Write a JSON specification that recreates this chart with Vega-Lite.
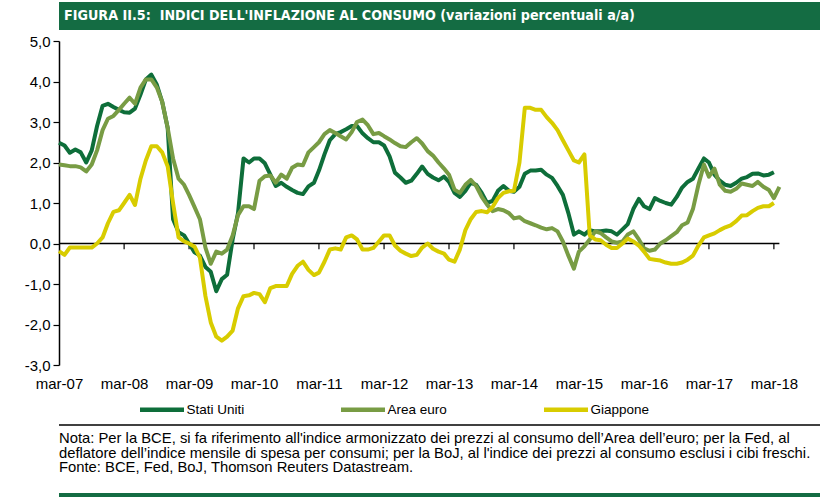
{
  "$schema": "https://vega.github.io/schema/vega-lite/v6.json",
  "padding": {"left": 0, "right": 0, "top": 2, "bottom": 0},
  "spacing": 4,
  "background": "white",
  "config": {"view": {"stroke": null}, "font": "Liberation Sans"},
  "datasets": {
    "m": [
      {"d":"2007-03-01","Stati Uniti":2.49,"Area euro":1.95,"Giappone":-0.19},
      {"d":"2007-04-01","Stati Uniti":2.42,"Area euro":1.93,"Giappone":-0.28},
      {"d":"2007-05-01","Stati Uniti":2.24,"Area euro":1.91,"Giappone":-0.1},
      {"d":"2007-06-01","Stati Uniti":2.32,"Area euro":1.91,"Giappone":-0.1},
      {"d":"2007-07-01","Stati Uniti":2.25,"Area euro":1.88,"Giappone":-0.1},
      {"d":"2007-08-01","Stati Uniti":2.0,"Area euro":1.78,"Giappone":-0.1},
      {"d":"2007-09-01","Stati Uniti":2.3,"Area euro":1.95,"Giappone":-0.1},
      {"d":"2007-10-01","Stati Uniti":2.9,"Area euro":2.3,"Giappone":0.0},
      {"d":"2007-11-01","Stati Uniti":3.4,"Area euro":2.8,"Giappone":0.15},
      {"d":"2007-12-01","Stati Uniti":3.45,"Area euro":3.08,"Giappone":0.5},
      {"d":"2008-01-01","Stati Uniti":3.37,"Area euro":3.15,"Giappone":0.78},
      {"d":"2008-02-01","Stati Uniti":3.3,"Area euro":3.3,"Giappone":0.82},
      {"d":"2008-03-01","Stati Uniti":3.24,"Area euro":3.45,"Giappone":1.0},
      {"d":"2008-04-01","Stati Uniti":3.23,"Area euro":3.6,"Giappone":1.2},
      {"d":"2008-05-01","Stati Uniti":3.33,"Area euro":3.45,"Giappone":0.95},
      {"d":"2008-06-01","Stati Uniti":3.68,"Area euro":3.85,"Giappone":1.6},
      {"d":"2008-07-01","Stati Uniti":4.05,"Area euro":4.05,"Giappone":2.05},
      {"d":"2008-08-01","Stati Uniti":4.17,"Area euro":4.05,"Giappone":2.4},
      {"d":"2008-09-01","Stati Uniti":3.92,"Area euro":3.85,"Giappone":2.4},
      {"d":"2008-10-01","Stati Uniti":3.5,"Area euro":3.5,"Giappone":2.25},
      {"d":"2008-11-01","Stati Uniti":2.85,"Area euro":2.85,"Giappone":1.9},
      {"d":"2008-12-01","Stati Uniti":0.6,"Area euro":2.1,"Giappone":1.0},
      {"d":"2009-01-01","Stati Uniti":0.28,"Area euro":1.6,"Giappone":0.15},
      {"d":"2009-02-01","Stati Uniti":0.2,"Area euro":1.45,"Giappone":0.05},
      {"d":"2009-03-01","Stati Uniti":0.0,"Area euro":1.2,"Giappone":0.0},
      {"d":"2009-04-01","Stati Uniti":-0.22,"Area euro":0.9,"Giappone":-0.08},
      {"d":"2009-05-01","Stati Uniti":-0.3,"Area euro":0.6,"Giappone":-0.35},
      {"d":"2009-06-01","Stati Uniti":-0.58,"Area euro":-0.1,"Giappone":-1.3},
      {"d":"2009-07-01","Stati Uniti":-0.7,"Area euro":-0.5,"Giappone":-1.95},
      {"d":"2009-08-01","Stati Uniti":-1.18,"Area euro":-0.2,"Giappone":-2.3},
      {"d":"2009-09-01","Stati Uniti":-0.88,"Area euro":-0.25,"Giappone":-2.4},
      {"d":"2009-10-01","Stati Uniti":-0.77,"Area euro":-0.15,"Giappone":-2.3},
      {"d":"2009-11-01","Stati Uniti":0.1,"Area euro":0.2,"Giappone":-2.15},
      {"d":"2009-12-01","Stati Uniti":0.75,"Area euro":0.7,"Giappone":-1.6},
      {"d":"2010-01-01","Stati Uniti":2.1,"Area euro":0.92,"Giappone":-1.3},
      {"d":"2010-02-01","Stati Uniti":2.0,"Area euro":0.92,"Giappone":-1.28},
      {"d":"2010-03-01","Stati Uniti":2.1,"Area euro":0.85,"Giappone":-1.22},
      {"d":"2010-04-01","Stati Uniti":2.1,"Area euro":1.55,"Giappone":-1.25},
      {"d":"2010-05-01","Stati Uniti":1.98,"Area euro":1.66,"Giappone":-1.45},
      {"d":"2010-06-01","Stati Uniti":1.7,"Area euro":1.68,"Giappone":-1.1},
      {"d":"2010-07-01","Stati Uniti":1.42,"Area euro":1.5,"Giappone":-1.05},
      {"d":"2010-08-01","Stati Uniti":1.5,"Area euro":1.7,"Giappone":-1.05},
      {"d":"2010-09-01","Stati Uniti":1.4,"Area euro":1.6,"Giappone":-1.05},
      {"d":"2010-10-01","Stati Uniti":1.32,"Area euro":1.87,"Giappone":-0.75},
      {"d":"2010-11-01","Stati Uniti":1.25,"Area euro":1.95,"Giappone":-0.55},
      {"d":"2010-12-01","Stati Uniti":1.22,"Area euro":1.93,"Giappone":-0.45},
      {"d":"2011-01-01","Stati Uniti":1.41,"Area euro":2.25,"Giappone":-0.65},
      {"d":"2011-02-01","Stati Uniti":1.5,"Area euro":2.38,"Giappone":-0.78},
      {"d":"2011-03-01","Stati Uniti":1.8,"Area euro":2.5,"Giappone":-0.72},
      {"d":"2011-04-01","Stati Uniti":2.2,"Area euro":2.7,"Giappone":-0.45},
      {"d":"2011-05-01","Stati Uniti":2.55,"Area euro":2.8,"Giappone":-0.15},
      {"d":"2011-06-01","Stati Uniti":2.7,"Area euro":2.73,"Giappone":-0.12},
      {"d":"2011-07-01","Stati Uniti":2.75,"Area euro":2.65,"Giappone":-0.15},
      {"d":"2011-08-01","Stati Uniti":2.82,"Area euro":2.57,"Giappone":0.15},
      {"d":"2011-09-01","Stati Uniti":2.9,"Area euro":2.75,"Giappone":0.2},
      {"d":"2011-10-01","Stati Uniti":2.9,"Area euro":3.0,"Giappone":0.1},
      {"d":"2011-11-01","Stati Uniti":2.72,"Area euro":3.06,"Giappone":-0.15},
      {"d":"2011-12-01","Stati Uniti":2.6,"Area euro":2.92,"Giappone":-0.15},
      {"d":"2012-01-01","Stati Uniti":2.5,"Area euro":2.7,"Giappone":-0.11},
      {"d":"2012-02-01","Stati Uniti":2.5,"Area euro":2.73,"Giappone":0.05},
      {"d":"2012-03-01","Stati Uniti":2.42,"Area euro":2.65,"Giappone":0.2},
      {"d":"2012-04-01","Stati Uniti":2.15,"Area euro":2.57,"Giappone":0.2},
      {"d":"2012-05-01","Stati Uniti":1.75,"Area euro":2.48,"Giappone":-0.05},
      {"d":"2012-06-01","Stati Uniti":1.63,"Area euro":2.4,"Giappone":-0.18},
      {"d":"2012-07-01","Stati Uniti":1.5,"Area euro":2.38,"Giappone":-0.25},
      {"d":"2012-08-01","Stati Uniti":1.55,"Area euro":2.5,"Giappone":-0.31},
      {"d":"2012-09-01","Stati Uniti":1.72,"Area euro":2.6,"Giappone":-0.28},
      {"d":"2012-10-01","Stati Uniti":1.9,"Area euro":2.47,"Giappone":-0.1},
      {"d":"2012-11-01","Stati Uniti":1.72,"Area euro":2.28,"Giappone":0.0},
      {"d":"2012-12-01","Stati Uniti":1.63,"Area euro":2.17,"Giappone":-0.13},
      {"d":"2013-01-01","Stati Uniti":1.56,"Area euro":2.0,"Giappone":-0.2},
      {"d":"2013-02-01","Stati Uniti":1.65,"Area euro":1.85,"Giappone":-0.25},
      {"d":"2013-03-01","Stati Uniti":1.52,"Area euro":1.7,"Giappone":-0.4},
      {"d":"2013-04-01","Stati Uniti":1.25,"Area euro":1.33,"Giappone":-0.45},
      {"d":"2013-05-01","Stati Uniti":1.15,"Area euro":1.25,"Giappone":-0.15},
      {"d":"2013-06-01","Stati Uniti":1.3,"Area euro":1.45,"Giappone":0.33},
      {"d":"2013-07-01","Stati Uniti":1.5,"Area euro":1.57,"Giappone":0.6},
      {"d":"2013-08-01","Stati Uniti":1.45,"Area euro":1.42,"Giappone":0.78},
      {"d":"2013-09-01","Stati Uniti":1.25,"Area euro":1.15,"Giappone":0.8},
      {"d":"2013-10-01","Stati Uniti":1.0,"Area euro":0.96,"Giappone":0.77},
      {"d":"2013-11-01","Stati Uniti":1.05,"Area euro":0.8,"Giappone":0.9},
      {"d":"2013-12-01","Stati Uniti":1.3,"Area euro":0.85,"Giappone":1.12},
      {"d":"2014-01-01","Stati Uniti":1.42,"Area euro":0.82,"Giappone":1.25},
      {"d":"2014-02-01","Stati Uniti":1.3,"Area euro":0.75,"Giappone":1.29},
      {"d":"2014-03-01","Stati Uniti":1.28,"Area euro":0.62,"Giappone":1.3},
      {"d":"2014-04-01","Stati Uniti":1.4,"Area euro":0.65,"Giappone":2.0},
      {"d":"2014-05-01","Stati Uniti":1.72,"Area euro":0.55,"Giappone":3.35},
      {"d":"2014-06-01","Stati Uniti":1.8,"Area euro":0.5,"Giappone":3.35},
      {"d":"2014-07-01","Stati Uniti":1.8,"Area euro":0.45,"Giappone":3.3},
      {"d":"2014-08-01","Stati Uniti":1.82,"Area euro":0.39,"Giappone":3.3},
      {"d":"2014-09-01","Stati Uniti":1.7,"Area euro":0.35,"Giappone":3.12},
      {"d":"2014-10-01","Stati Uniti":1.62,"Area euro":0.38,"Giappone":2.98},
      {"d":"2014-11-01","Stati Uniti":1.42,"Area euro":0.3,"Giappone":2.8},
      {"d":"2014-12-01","Stati Uniti":1.2,"Area euro":0.05,"Giappone":2.55},
      {"d":"2015-01-01","Stati Uniti":0.75,"Area euro":-0.3,"Giappone":2.3},
      {"d":"2015-02-01","Stati Uniti":0.22,"Area euro":-0.62,"Giappone":2.05},
      {"d":"2015-03-01","Stati Uniti":0.3,"Area euro":-0.2,"Giappone":2.0},
      {"d":"2015-04-01","Stati Uniti":0.22,"Area euro":-0.07,"Giappone":2.2},
      {"d":"2015-05-01","Stati Uniti":0.33,"Area euro":0.1,"Giappone":0.2},
      {"d":"2015-06-01","Stati Uniti":0.3,"Area euro":0.3,"Giappone":0.1},
      {"d":"2015-07-01","Stati Uniti":0.3,"Area euro":0.26,"Giappone":0.08},
      {"d":"2015-08-01","Stati Uniti":0.32,"Area euro":0.15,"Giappone":-0.03},
      {"d":"2015-09-01","Stati Uniti":0.3,"Area euro":0.05,"Giappone":-0.11},
      {"d":"2015-10-01","Stati Uniti":0.22,"Area euro":0.02,"Giappone":-0.11},
      {"d":"2015-11-01","Stati Uniti":0.35,"Area euro":0.05,"Giappone":0.0},
      {"d":"2015-12-01","Stati Uniti":0.48,"Area euro":0.22,"Giappone":0.12},
      {"d":"2016-01-01","Stati Uniti":0.85,"Area euro":0.3,"Giappone":0.05},
      {"d":"2016-02-01","Stati Uniti":1.1,"Area euro":0.1,"Giappone":-0.05},
      {"d":"2016-03-01","Stati Uniti":0.92,"Area euro":-0.12,"Giappone":-0.2},
      {"d":"2016-04-01","Stati Uniti":0.85,"Area euro":-0.18,"Giappone":-0.38},
      {"d":"2016-05-01","Stati Uniti":1.12,"Area euro":-0.15,"Giappone":-0.4},
      {"d":"2016-06-01","Stati Uniti":1.05,"Area euro":0.0,"Giappone":-0.42},
      {"d":"2016-07-01","Stati Uniti":1.0,"Area euro":0.08,"Giappone":-0.47},
      {"d":"2016-08-01","Stati Uniti":0.96,"Area euro":0.18,"Giappone":-0.5},
      {"d":"2016-09-01","Stati Uniti":1.15,"Area euro":0.28,"Giappone":-0.5},
      {"d":"2016-10-01","Stati Uniti":1.38,"Area euro":0.45,"Giappone":-0.47},
      {"d":"2016-11-01","Stati Uniti":1.52,"Area euro":0.52,"Giappone":-0.4},
      {"d":"2016-12-01","Stati Uniti":1.6,"Area euro":0.85,"Giappone":-0.3},
      {"d":"2017-01-01","Stati Uniti":1.85,"Area euro":1.45,"Giappone":-0.05},
      {"d":"2017-02-01","Stati Uniti":2.1,"Area euro":1.95,"Giappone":0.15},
      {"d":"2017-03-01","Stati Uniti":2.0,"Area euro":1.65,"Giappone":0.2},
      {"d":"2017-04-01","Stati Uniti":1.7,"Area euro":1.85,"Giappone":0.25},
      {"d":"2017-05-01","Stati Uniti":1.55,"Area euro":1.45,"Giappone":0.33},
      {"d":"2017-06-01","Stati Uniti":1.45,"Area euro":1.3,"Giappone":0.4},
      {"d":"2017-07-01","Stati Uniti":1.42,"Area euro":1.28,"Giappone":0.45},
      {"d":"2017-08-01","Stati Uniti":1.5,"Area euro":1.35,"Giappone":0.55},
      {"d":"2017-09-01","Stati Uniti":1.6,"Area euro":1.48,"Giappone":0.69},
      {"d":"2017-10-01","Stati Uniti":1.64,"Area euro":1.45,"Giappone":0.7},
      {"d":"2017-11-01","Stati Uniti":1.72,"Area euro":1.42,"Giappone":0.8},
      {"d":"2017-12-01","Stati Uniti":1.73,"Area euro":1.52,"Giappone":0.88},
      {"d":"2018-01-01","Stati Uniti":1.68,"Area euro":1.4,"Giappone":0.92},
      {"d":"2018-02-01","Stati Uniti":1.7,"Area euro":1.32,"Giappone":0.92},
      {"d":"2018-03-01","Stati Uniti":1.76,"Area euro":1.12,"Giappone":1.0},
      {"d":"2018-04-01","Stati Uniti":null,"Area euro":1.4,"Giappone":null}
    ],
    "ticks": [
      {"d":"2008-03-01"},{"d":"2009-03-01"},{"d":"2010-03-01"},{"d":"2011-03-01"},
      {"d":"2012-03-01"},{"d":"2013-03-01"},{"d":"2014-03-01"},{"d":"2015-03-01"},
      {"d":"2016-03-01"},{"d":"2017-03-01"},{"d":"2018-03-01"}
    ],
    "notes": [
      {"k":1,"t":"Nota: Per la BCE, si fa riferimento all'indice armonizzato dei prezzi al consumo dell’Area dell’euro; per la Fed, al"},
      {"k":2,"t":"deflatore dell’indice mensile di spesa per consumi; per la BoJ, al l'indice dei prezzi al consumo esclusi i cibi freschi."},
      {"k":3,"t":"Fonte: BCE, Fed, BoJ, Thomson Reuters Datastream."}
    ]
  },
  "vconcat": [
    {
      "width": 820,
      "height": 28,
      "view": {"fill": "#146c43", "stroke": null},
      "data": {"values": [{"t": "FIGURA II.5:\u00a0 INDICI DELL'INFLAZIONE AL CONSUMO (variazioni percentuali a/a)"}]},
      "mark": {"type": "text", "align": "left", "baseline": "middle", "dx": 5, "font": "DejaVu Sans Condensed, Liberation Sans Narrow, Liberation Sans", "fontWeight": "bold", "fontSize": 14.2, "color": "white"},
      "encoding": {
        "x": {"datum": 0, "type": "quantitative", "scale": {"domain": [0, 1]}, "axis": null},
        "y": {"datum": 0.5, "type": "quantitative", "scale": {"domain": [0, 1]}, "axis": null},
        "text": {"field": "t"}
      }
    },
    {
      "width": 720.4,
      "height": 324,
      "encoding": {
        "x": {"field": "d", "type": "temporal",
          "scale": {"type": "utc", "domain": [{"year":2007,"month":3,"date":1,"utc":true},{"year":2018,"month":4,"date":1,"utc":true}]},
          "axis": {"title": null, "domain": false, "ticks": false, "grid": false, "labelPadding": 11, "labelFontSize": 15, "labelColor": "black", "labelOverlap": false, "labelFlush": false, "labelFont": "Liberation Sans",
            "values": [{"year":2007,"month":3,"date":1,"utc":true},{"year":2008,"month":3,"date":1,"utc":true},{"year":2009,"month":3,"date":1,"utc":true},{"year":2010,"month":3,"date":1,"utc":true},{"year":2011,"month":3,"date":1,"utc":true},{"year":2012,"month":3,"date":1,"utc":true},{"year":2013,"month":3,"date":1,"utc":true},{"year":2014,"month":3,"date":1,"utc":true},{"year":2015,"month":3,"date":1,"utc":true},{"year":2016,"month":3,"date":1,"utc":true},{"year":2017,"month":3,"date":1,"utc":true},{"year":2018,"month":3,"date":1,"utc":true}],
            "labelExpr": "'mar-' + utcFormat(datum.value, '%y')"}
        }
      },
      "layer": [
        {
          "data": {"values": [{"z": 0}]},
          "mark": {"type": "rule", "color": "black", "strokeWidth": 1.5},
          "encoding": {
            "x": null,
            "y": {"field": "z", "type": "quantitative",
              "scale": {"domain": [-3, 5], "nice": false, "zero": false},
              "axis": {"title": null, "grid": false, "values": [-3,-2,-1,0,1,2,3,4,5], "domainColor": "black", "domainWidth": 1.5, "tickColor": "black", "tickSize": 6, "tickWidth": 1.2, "labelPadding": 3, "labelFontSize": 15, "labelColor": "black", "minExtent": 58.3, "maxExtent": 58.3,
                "labelExpr": "(datum.value < 0 ? '-' : '') + replace(format(abs(datum.value), '.1f'), '.', ',')"}
            }
          }
        },
        {
          "data": {"name": "ticks"},
          "mark": {"type": "rule", "color": "black", "strokeWidth": 1.2},
          "encoding": {
            "y": {"datum": 0, "type": "quantitative"},
            "y2": {"datum": -0.14}
          }
        },
        {
          "data": {"name": "m"},
          "transform": [{"fold": ["Stati Uniti", "Area euro", "Giappone"], "as": ["serie", "v"]}],
          "mark": {"type": "line", "strokeWidth": 4, "strokeJoin": "round"},
          "encoding": {
            "y": {"field": "v", "type": "quantitative"},
            "color": {"field": "serie", "type": "nominal",
              "scale": {"domain": ["Stati Uniti", "Area euro", "Giappone"], "range": ["#0e6e3a", "#789c44", "#d8cc00"]},
              "legend": {"orient": "none", "legendX": 78.5, "legendY": 383, "direction": "horizontal", "title": null, "symbolType": "stroke", "symbolSize": 1936, "symbolStrokeWidth": 4.5, "labelFontSize": 13.5, "labelColor": "black", "labelOffset": 0, "columnPadding": 87, "padding": 0}
            }
          }
        }
      ]
    },
    {
      "width": 820,
      "height": 90,
      "layer": [
        {
          "data": {"values": [{"a": 0, "b": 1, "k": 0}]},
          "mark": {"type": "rule", "color": "black", "strokeWidth": 1.5},
          "encoding": {
            "x": {"field": "a", "type": "quantitative", "scale": {"domain": [0, 1], "nice": false, "zero": false}, "axis": null},
            "x2": {"field": "b"},
            "y": {"field": "k", "type": "quantitative", "scale": {"domain": [-2.069, 4.138], "reverse": true, "nice": false, "zero": false}, "axis": null}
          }
        },
        {
          "data": {"name": "notes"},
          "mark": {"type": "text", "align": "left", "baseline": "middle", "fontSize": 14.8, "color": "black"},
          "encoding": {
            "x": {"datum": 0, "type": "quantitative"},
            "y": {"field": "k", "type": "quantitative"},
            "text": {"field": "t"}
          }
        }
      ]
    },
    {
      "width": 820,
      "height": 4,
      "view": {"fill": "#146c43", "stroke": null},
      "data": {"values": [{"t": ""}]},
      "mark": {"type": "text"},
      "encoding": {"text": {"field": "t"}}
    }
  ]
}
